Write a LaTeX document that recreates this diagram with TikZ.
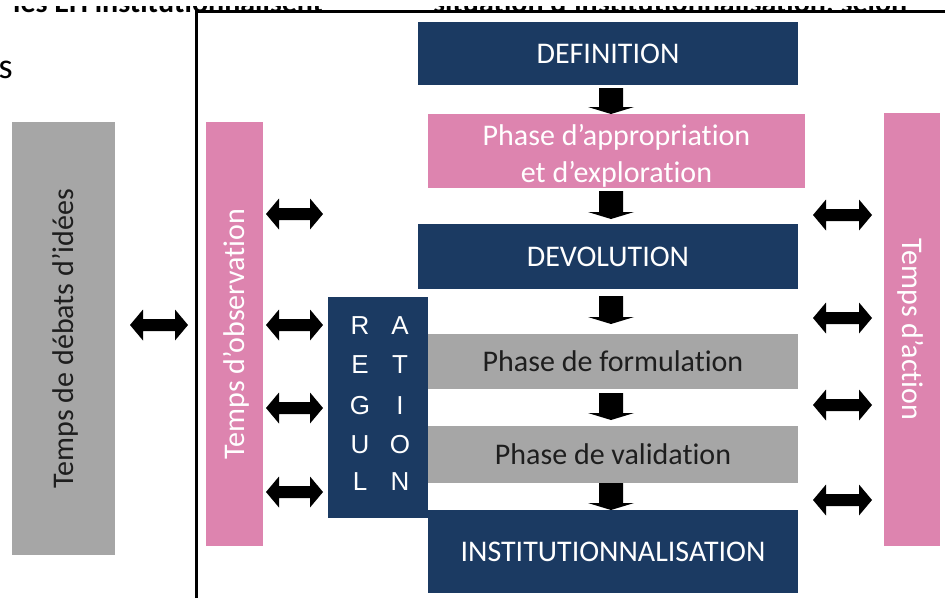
\documentclass[tikz,border=0pt]{standalone}
\usepackage{fontspec}
\setmainfont{Carlito}[Ligatures={NoCommon,NoRequired,NoContextual}]
\newfontfamily\regfont{Liberation Sans}
\usetikzlibrary{calc}
\definecolor{navy}{HTML}{1B3A62}
\definecolor{rose}{HTML}{DD84AF}
\definecolor{grisbox}{HTML}{A6A6A6}
\definecolor{txtdark}{HTML}{1E1E1E}
\tikzset{
  base0/.style={inner sep=0pt, outer sep=0pt, font=\fontsize{30}{37}\selectfont},
  base/.style={base0, text height=19pt, text depth=0pt},
  navybox/.style={base, fill=navy, text=white},
  pinkbox/.style={base, fill=rose, text=white},
  greybox/.style={base, fill=grisbox, text=txtdark},
  regl/.style={inner sep=0pt, text=white, font=\regfont\fontsize{26}{26}\selectfont},
  cuttext/.style={anchor=base west, inner sep=0pt, font=\bfseries\fontsize{30}{36}\selectfont},
}
\newcommand\bdarrow[2]{\fill[black] ($(#1)+(-12,0)$) -- ($(#1)+(12,0)$) -- ($(#2)+(12,-7)$) -- ($(#2)+(23,-7)$) -- (#2) -- ($(#2)+(-23,-7)$) -- ($(#2)+(-12,-7)$) -- cycle;}
\newcommand\bharrow[2]{\fill[black] (#1) -- ($(#1)+(13,-15.5)$) -- ($(#1)+(13,-6)$) -- ($(#2)+(-13,-6)$) -- ($(#2)+(-13,-15.5)$) -- (#2) -- ($(#2)+(-13,15.5)$) -- ($(#2)+(-13,6)$) -- ($(#1)+(13,6)$) -- ($(#1)+(13,15.5)$) -- cycle;}
\begin{document}
\begin{tikzpicture}[x=1pt,y=-1pt]
\useasboundingbox (0,0) rectangle (945,598);
\fill[white] (0,0) rectangle (945,598);
% cut-off text at the top
\begin{scope}
  \clip (0,6) rectangle (945,12);
  \node[cuttext] (top1) at (13,12.5) {les EH institutionnalisent};
  \node[cuttext] (top2) at (433,12.5) {situation d’institutionnalisation, selon};
\end{scope}
\node[anchor=base east, inner sep=0pt, font=\fontsize{36}{40}\selectfont] (s) at (13,78) {s};
% frame
\draw[line width=2.2pt] (196.5,598) -- (196.5,11.5) -- (945,11.5);
% side boxes
\node[greybox, rotate=90, minimum width=433pt, minimum height=103pt] (deb) at (63.5,338.5) {Temps de débats d’idées};
\node[pinkbox, rotate=90, minimum width=424pt, minimum height=57pt] (obs) at (234.5,334) {Temps d’observation};
\node[pinkbox, rotate=-90, minimum width=433pt, minimum height=56pt] (act) at (912,329.5) {Temps d’action};
% main column
\node[navybox, minimum width=380pt, minimum height=63pt] (def) at (608,53.5) {DEFINITION};
\node[base0, fill=rose, minimum width=377pt, minimum height=74pt,
      label={[base0, text=white, align=center, yshift=-4.5pt]center:Phase d’appropriation\\et d’exploration}] (app) at (616.5,151) {};
\node[navybox, minimum width=380pt, minimum height=65pt] (dev) at (608,256.5) {DEVOLUTION};
\node[navybox, minimum width=100pt, minimum height=221pt] (reg) at (378,407.5) {};
\node[greybox, minimum width=370pt, minimum height=55pt] (form) at (613,361.5) {Phase de formulation};
\node[greybox, minimum width=370pt, minimum height=57pt] (val) at (613,454.5) {Phase de validation};
\node[navybox, minimum width=370pt, minimum height=83pt] (inst) at (613,551.5) {INSTITUTIONNALISATION};
% REGULATION letters
\foreach \l/\yy [count=\i] in {R/326,E/365,G/406,U/445,L/482}
  \node[regl] (rl\i) at (360,\yy) {\l};
\foreach \l/\yy [count=\i] in {A/326,T/365,I/406,O/445,N/482}
  \node[regl] (rr\i) at (400,\yy) {\l};
% down arrows
\coordinate (ax) at (611,0);
\path ($(def.south -| ax)+(0,3)$) coordinate (d1a) (app.north -| ax) coordinate (d1b);
\path ($(app.south -| ax)+(0,3)$) coordinate (d2a) ($(dev.north -| ax)+(0,-5)$) coordinate (d2b);
\path ($(dev.south -| ax)+(0,7)$) coordinate (d3a) ($(form.north -| ax)+(0,-10)$) coordinate (d3b);
\path ($(form.south -| ax)+(0,4)$) coordinate (d4a) ($(val.north -| ax)+(0,-6)$) coordinate (d4b);
\path (val.south -| ax) coordinate (d5a) (inst.north -| ax) coordinate (d5b);
\bdarrow{d1a}{d1b}
\bdarrow{d2a}{d2b}
\bdarrow{d3a}{d3b}
\bdarrow{d4a}{d4b}
\bdarrow{d5a}{d5b}
% double arrows, left
\foreach \yy [count=\i] in {214,325,408,492} {
  \coordinate (hl\i) at (0,\yy);
  \path ($(obs.south |- hl\i)+(3,0)$) coordinate (la\i) ($(reg.west |- hl\i)+(-5,0)$) coordinate (lb\i);
  \bharrow{la\i}{lb\i}
}
% double arrows, right
\foreach \yy [count=\i] in {215,318,405,500} {
  \coordinate (hr\i) at (0,\yy);
  \path ($(act.south |- hr\i)+(-71,0)$) coordinate (ra\i) ($(act.south |- hr\i)+(-12,0)$) coordinate (rb\i);
  \bharrow{ra\i}{rb\i}
}
% debate arrow
\path ($(deb.south |- hl2)+(15,0)$) coordinate (da) ($(obs.north |- hl2)+(-18,0)$) coordinate (db);
\bharrow{da}{db}
\end{tikzpicture}
\end{document}
